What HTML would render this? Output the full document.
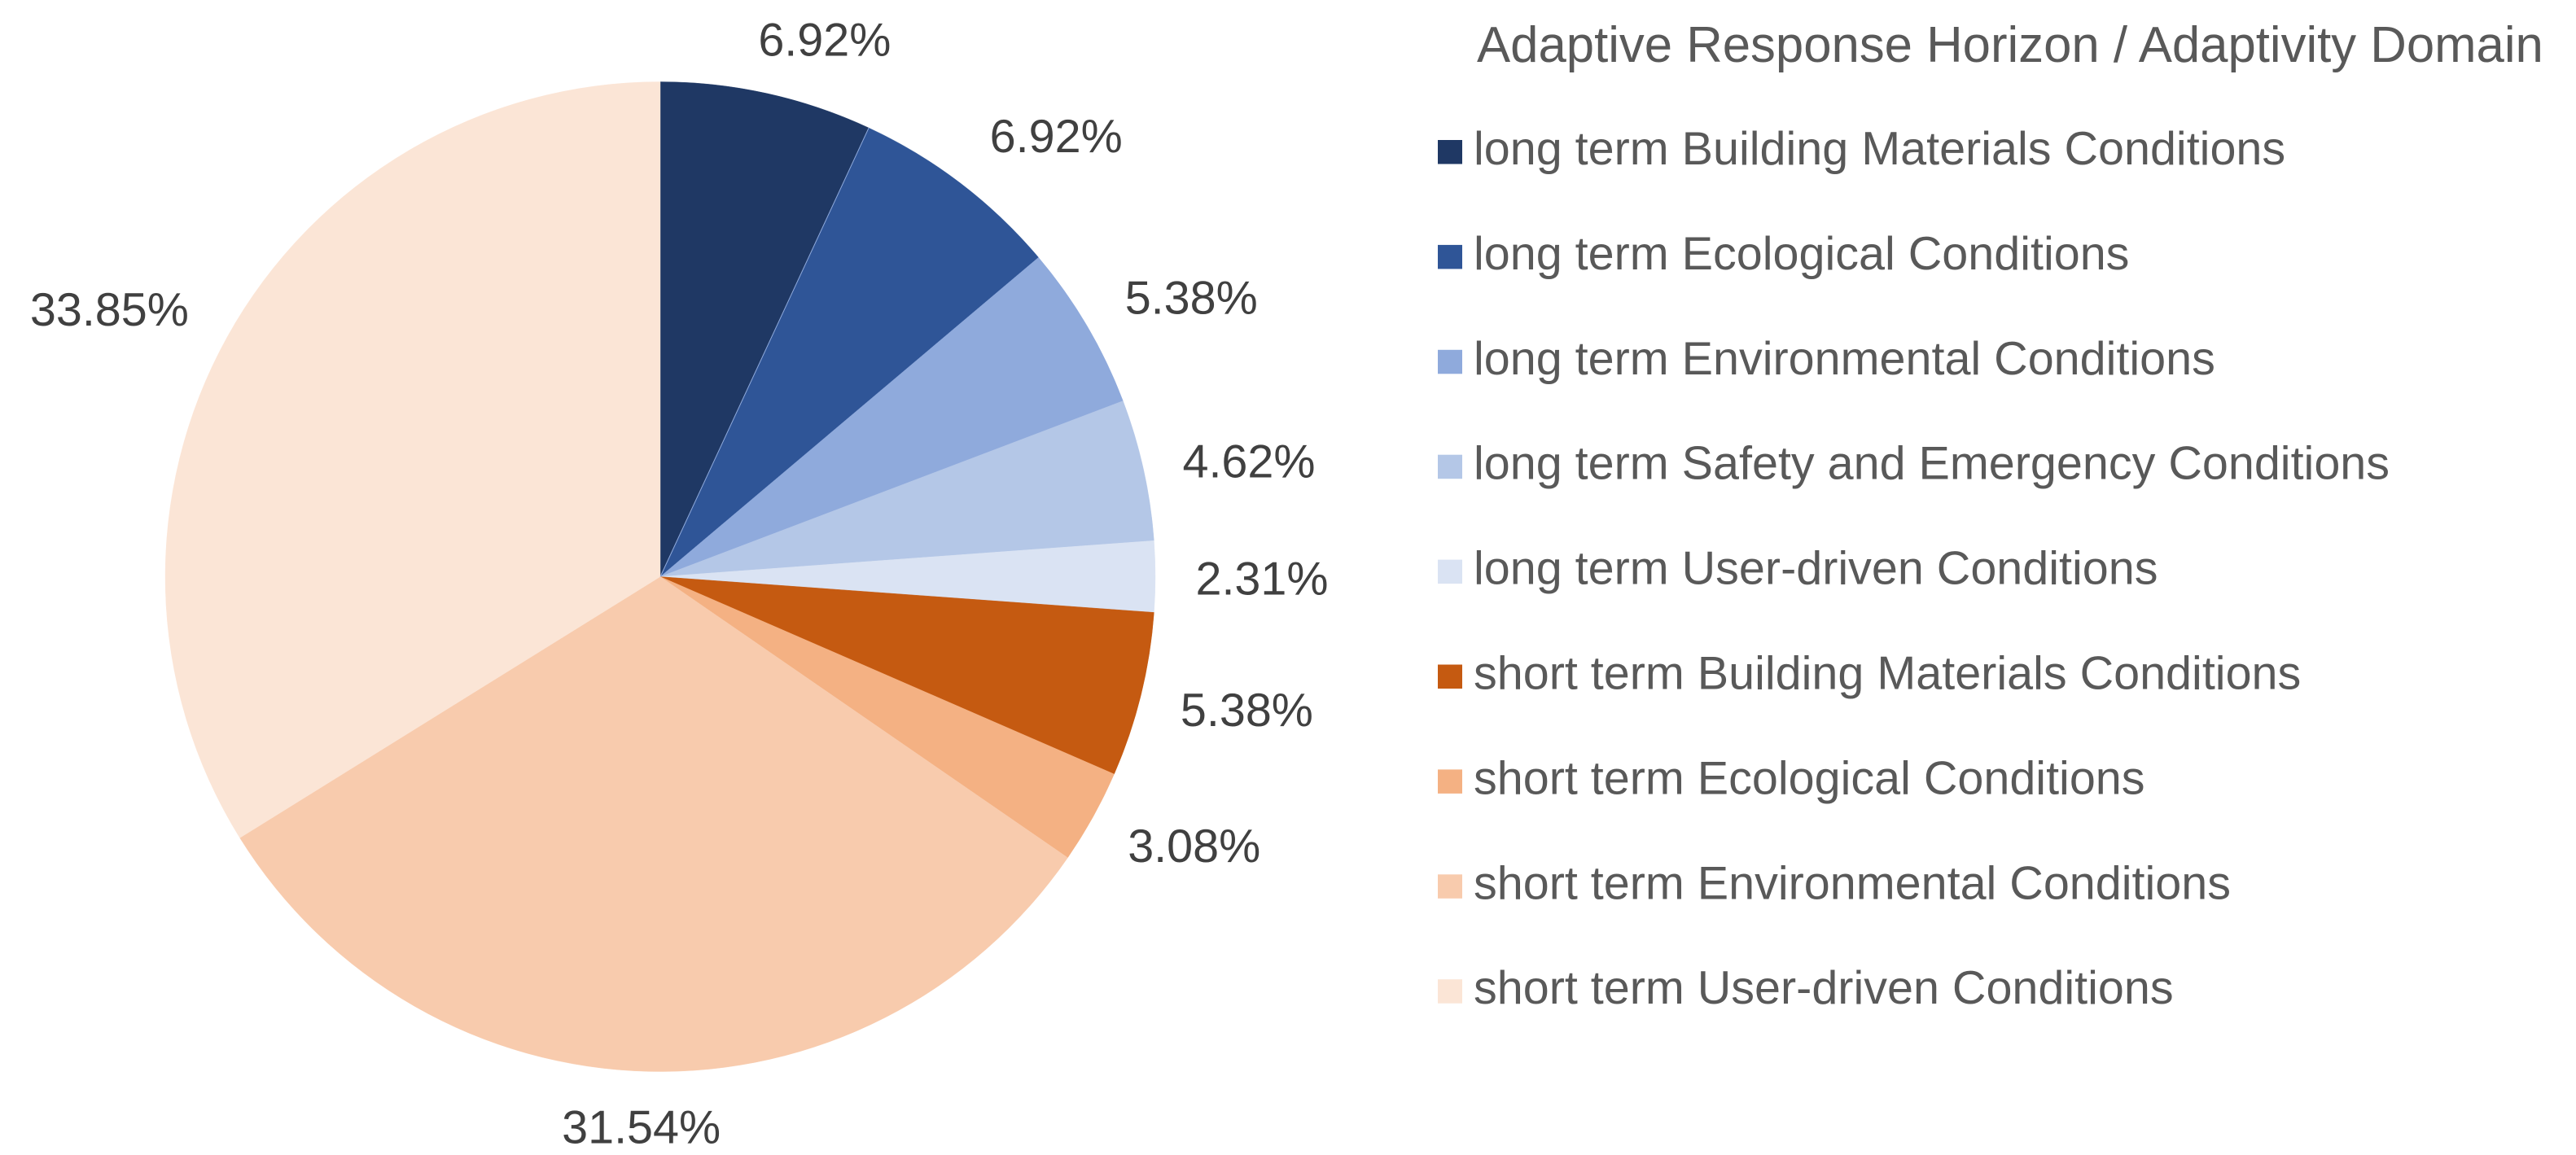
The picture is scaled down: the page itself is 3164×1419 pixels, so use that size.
<!DOCTYPE html>
<html lang="en">
<head>
<meta charset="utf-8">
<title>Adaptive Response Horizon / Adaptivity Domain</title>
<style>
  html, body { margin: 0; padding: 0; background: #ffffff; }
  body { width: 3164px; height: 1419px; overflow: hidden; }
  svg { display: block; font-family: "Liberation Sans", Arial, sans-serif; }
</style>
</head>
<body>
<svg id="chart" xmlns="http://www.w3.org/2000/svg" width="3164" height="1419" viewBox="0 0 3164 1419">
  <rect x="0" y="0" width="3164" height="1419" fill="#ffffff"/>
  <g id="slices"></g>
  <g id="labels"></g>
  <text x="1814" y="76" font-size="61.7" fill="#595959">Adaptive Response Horizon / Adaptivity Domain</text>
  <g id="legend"></g>
</svg>
<script>
const categories = [
  "long term Building Materials Conditions",
  "long term Ecological Conditions",
  "long term Environmental Conditions",
  "long term Safety and Emergency Conditions",
  "long term User-driven Conditions",
  "short term Building Materials Conditions",
  "short term Ecological Conditions",
  "short term Environmental Conditions",
  "short term User-driven Conditions"
];
const seriesValues = [6.92, 6.92, 5.38, 4.62, 2.31, 5.38, 3.08, 31.54, 33.85];
const sliceColors = ["#1F3864", "#2F5597", "#8FAADC", "#B4C7E7", "#DAE3F3", "#C55A11", "#F4B183", "#F8CBAD", "#FBE5D6"];

const NS = "http://www.w3.org/2000/svg";
const cx = 811, cy = 708.5, radius = 608;
const total = seriesValues.reduce((a, b) => a + b, 0);

/* Small per-label layout tweaks applied on top of the computed outside-end placement. */
const labelShiftX = [8, 12, 3, -4, -4, -3, -2, 12, -19];
const labelShiftY = [0, -4, 0, 4, 2, 2, 2, 0, 0];

function angleOf(cumulative) {
  return (cumulative / total) * Math.PI * 2;
}
function pointAt(angle, r) {
  return [cx + Math.sin(angle) * r, cy - Math.cos(angle) * r];
}
function labelCenter(midAngle) {
  const dx = Math.sin(midAngle);
  const dy = -Math.cos(midAngle);
  const edge = pointAt(midAngle, radius);
  const offsetX = Math.sign(dx) * Math.sqrt(Math.abs(dx)) * 135;
  const offsetY = dy * 68;
  return [edge[0] + offsetX, edge[1] + offsetY];
}

const sliceGroup = document.getElementById("slices");
const labelGroup = document.getElementById("labels");
const legendGroup = document.getElementById("legend");

let running = 0;
seriesValues.forEach((value, i) => {
  const start = angleOf(running);
  const end = angleOf(running + value);
  running += value;
  const p0 = pointAt(start, radius);
  const p1 = pointAt(end, radius);
  const large = end - start > Math.PI ? 1 : 0;

  const slice = document.createElementNS(NS, "path");
  slice.setAttribute("d", `M ${cx} ${cy} L ${p0[0]} ${p0[1]} A ${radius} ${radius} 0 ${large} 1 ${p1[0]} ${p1[1]} Z`);
  slice.setAttribute("fill", sliceColors[i]);
  slice.setAttribute("stroke", sliceColors[i]);
  slice.setAttribute("stroke-width", "0.4");
  
  
  sliceGroup.appendChild(slice);

  const c = labelCenter((start + end) / 2);
  const label = document.createElementNS(NS, "text");
  label.setAttribute("x", c[0] + labelShiftX[i]);
  label.setAttribute("y", c[1] + 20 + labelShiftY[i]);
  label.setAttribute("text-anchor", "middle");
  label.setAttribute("font-size", "57.5");
  label.setAttribute("fill", "#404040");
  
  
  label.textContent = value.toFixed(2) + "%";
  labelGroup.appendChild(label);

  const rowBaseline = 202 + i * 128.9;
  const swatch = document.createElementNS(NS, "rect");
  swatch.setAttribute("x", 1766);
  swatch.setAttribute("y", rowBaseline - 30);
  swatch.setAttribute("width", 30);
  swatch.setAttribute("height", 29.5);
  swatch.setAttribute("fill", sliceColors[i]);
  
  
  legendGroup.appendChild(swatch);

  const entry = document.createElementNS(NS, "text");
  entry.setAttribute("x", 1810);
  entry.setAttribute("y", rowBaseline);
  entry.setAttribute("font-size", "57.5");
  entry.setAttribute("fill", "#595959");
  
  
  entry.textContent = categories[i];
  legendGroup.appendChild(entry);
});

const dividerEnd = pointAt(angleOf(seriesValues[0]), radius);
const divider = document.createElementNS(NS, "line");
divider.setAttribute("x1", cx);
divider.setAttribute("y1", cy);
divider.setAttribute("x2", dividerEnd[0]);
divider.setAttribute("y2", dividerEnd[1]);
divider.setAttribute("stroke", "#8FAADC");
divider.setAttribute("stroke-width", "1");


sliceGroup.appendChild(divider);
</script>
</body>
</html>
